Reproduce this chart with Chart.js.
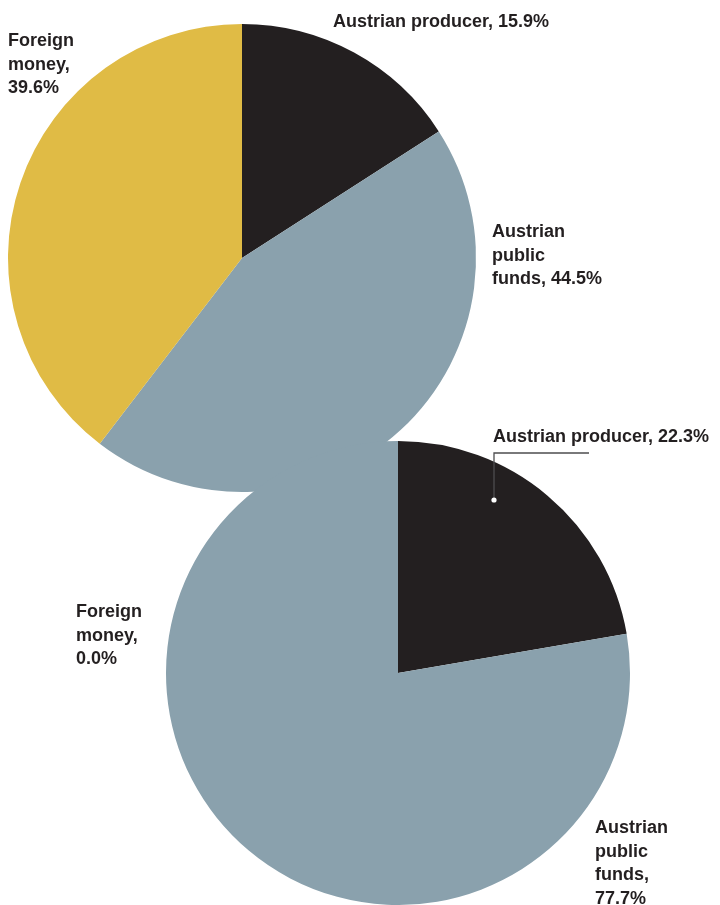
<!DOCTYPE html>
<html>
<head>
<meta charset="utf-8">
<script src="https://cdn.jsdelivr.net/npm/chart.js@4"></script>
<style>
  html, body { margin: 0; padding: 0; background: #fff; overflow: hidden; }
  .wrap { position: relative; width: 720px; height: 905px; }
  .wrap canvas { position: absolute; left: 0; top: 0; }
</style>
</head>
<body>
<div class="wrap">
  <canvas id="pieA" width="720" height="905"></canvas>
  <canvas id="pieB" width="720" height="905"></canvas>
</div>
<script>
const categories = ['Austrian producer', 'Austrian public funds', 'Foreign money'];
const sharesA = [15.9, 44.5, 39.6];
const sharesB = [22.3, 77.7, 0.0];
const colors = ['#231f20', '#8aa1ad', '#e0bb45'];

const TEXT_FONT = 'bold 18px "Liberation Sans", Arial, Helvetica, sans-serif';
const LINE_H = 23.5;

// words per line for each label, and where its first baseline sits relative to the pie centre
const labelsA = [
  { dx: 91, dy: -231, breaks: [4] },
  { dx: 250, dy: -21, breaks: [1, 1, 2] },
  { dx: -234, dy: -212, breaks: [1, 1, 1] }
];
const labelsB = [
  { dx: 95, dy: -231, breaks: [4], leader: { hx: 96, hy: -220, lx: 191, px: 96, py: -173 } },
  { dx: 197, dy: 160, breaks: [1, 1, 1, 1] },
  { dx: -322, dy: -56, breaks: [1, 1, 1] }
];

function labelLines(name, value, breaks) {
  const words = (name + ', ' + value.toFixed(1) + '%').split(' ');
  const lines = [];
  let i = 0;
  breaks.forEach(n => {
    lines.push(words.slice(i, i + n).join(' '));
    i += n;
  });
  return lines;
}

const sliceLabels = {
  id: 'sliceLabels',
  afterDraw(chart, args, opts) {
    const ctx = chart.ctx;
    const arc = chart.getDatasetMeta(0).data[0];
    const cx = arc.x, cy = arc.y;
    const values = chart.data.datasets[0].data;
    ctx.save();
    opts.items.forEach((item, i) => {
      if (item.leader) {
        const l = item.leader;
        ctx.strokeStyle = '#4d4d4f';
        ctx.lineWidth = 1.3;
        ctx.beginPath();
        ctx.moveTo(cx + l.lx, cy + l.hy);
        ctx.lineTo(cx + l.hx, cy + l.hy);
        ctx.lineTo(cx + l.px, cy + l.py);
        ctx.stroke();
        ctx.fillStyle = '#ffffff';
        ctx.beginPath();
        ctx.arc(cx + l.px, cy + l.py, 2.6, 0, Math.PI * 2);
        ctx.fill();
      }
      ctx.font = TEXT_FONT;
      ctx.fillStyle = '#231f20';
      ctx.textAlign = 'left';
      ctx.textBaseline = 'alphabetic';
      labelLines(chart.data.labels[i], values[i], item.breaks).forEach((line, k) => {
        ctx.fillText(line, cx + item.dx, cy + item.dy + k * LINE_H);
      });
    });
    ctx.restore();
  }
};

function makePie(id, shares, pad, items) {
  return new Chart(document.getElementById(id), {
    type: 'pie',
    data: {
      labels: categories,
      datasets: [{
        data: shares,
        backgroundColor: colors,
        borderWidth: 0,
        hoverOffset: 0
      }]
    },
    options: {
      responsive: false,
      animation: false,
      events: [],
      layout: { padding: pad },
      plugins: {
        legend: { display: false },
        tooltip: { enabled: false },
        sliceLabels: { items: items }
      }
    },
    plugins: [sliceLabels]
  });
}

makePie('pieA', sharesA, { left: 8, top: 24, right: 244, bottom: 413 }, labelsA);
makePie('pieB', sharesB, { left: 166, top: 441, right: 90, bottom: 0 }, labelsB);
</script>
</body>
</html>
